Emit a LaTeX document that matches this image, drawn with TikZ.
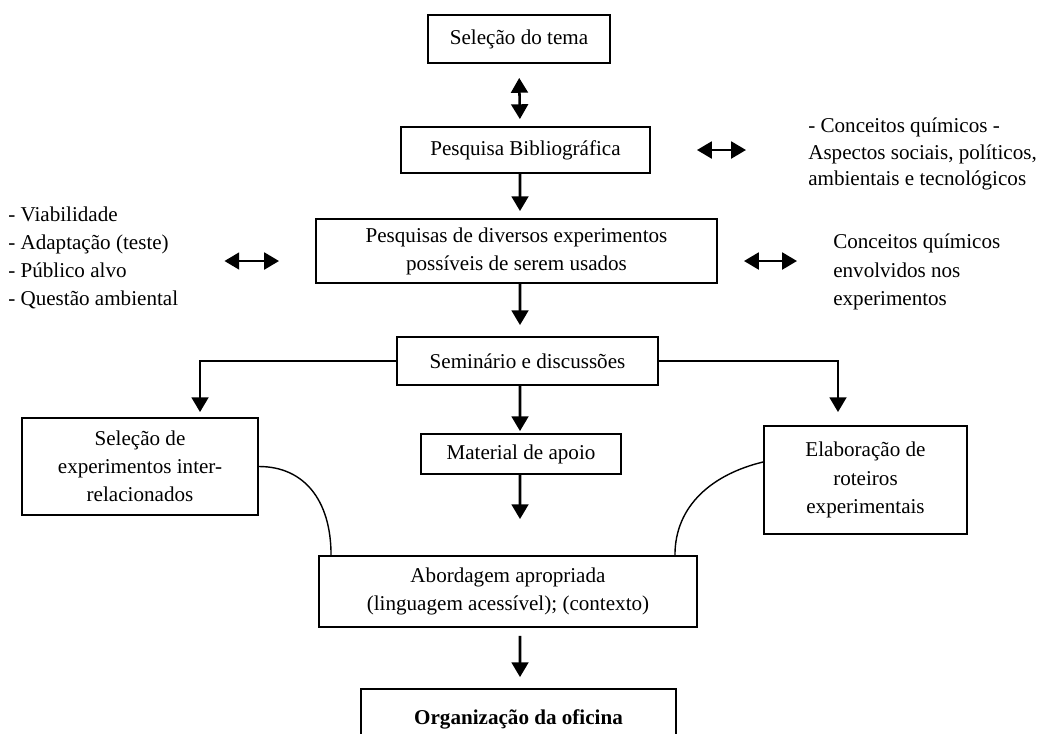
\documentclass[tikz,border=0pt]{standalone}
\usepackage{fontspec}
\setmainfont{Liberation Serif}
\usetikzlibrary{arrows.meta}

\begin{document}
\begin{tikzpicture}[x=0.025cm,y=-0.025cm,font=\fontsize{15}{20}\selectfont]
	\useasboundingbox (0,0) rectangle (1039,733);
	\clip (0,0) rectangle (1039,733);

	\begin{scope}[every node/.style={rectangle,draw,line width=1.3pt,align=center,inner sep=0pt}]
	    \node[minimum width=4.55cm,minimum height=1.2cm] (tema) at (519,39) {Seleção do tema};
	    \node[minimum width=6.225cm,minimum height=1.15cm] (biblio) at (525.5,150) {Pesquisa Bibliográfica};
	    \node[minimum width=10.025cm,minimum height=1.6cm] (exper) at (516.5,251) {Pesquisas de diversos experimentos\\possíveis de serem usados};
	    \node[minimum width=6.525cm,minimum height=1.2cm] (semin) at (527.5,361) {Seminário e discussões};
	    \node[minimum width=5.9cm,minimum height=2.425cm] (selexp) at (140,466.5) {Seleção de\\experimentos inter-\\relacionados};
	    \node[minimum width=5cm,minimum height=1cm] (apoio) at (521,454) {Material de apoio};
	    \node[minimum width=5.075cm,minimum height=2.7cm] (roteiro) at (865.5,480) {Elaboração de\\roteiros\\experimentais};
	    \node[minimum width=9.45cm,minimum height=1.775cm] (abord) at (508,591.5) {Abordagem apropriada\\(linguagem acessível); (contexto)};
	    \node[minimum width=7.875cm,minimum height=1.5cm,font=\fontsize{15}{20}\selectfont\bfseries] (oficina) at (518.5,719) {Organização da oficina};
	\end{scope}

	\begin{scope}[every node/.style={align=left,inner sep=0pt,anchor=west}]
	    \node[font=\fontsize{15}{19}\selectfont] (quim) at (808,154) {- Conceitos químicos -\\Aspectos sociais, políticos,\\ambientais e tecnológicos};
	    \node (crit) at (8,258) {- Viabilidade\\- Adaptação (teste)\\- Público alvo\\- Questão ambiental};
	    \node (envol) at (833,272) {Conceitos químicos\\envolvidos nos\\experimentos};
	\end{scope}

	\begin{scope}[>={Triangle[length=0.37cm,width=0.42cm]},
	              line width=1.8pt,
	              every edge/.style={draw=black}]
	    \path [<->] (tema.south) edge[shorten <=0.35cm,shorten >=0.175cm] ([xshift=-0.1375cm]biblio.north);
	    \path [<->] (biblio.east) edge[shorten <=1.15cm,shorten >=1.55cm] (biblio.east -| quim.west);
	    \path [->] ([xshift=-0.1375cm]biblio.south) edge[shorten >=0.175cm] ([xshift=0.0875cm]exper.north);
	    \path [<->] ([yshift=-0.25cm]exper.west) edge[shorten <=0.9cm,shorten >=1.15cm] ([yshift=-0.25cm]exper.west -| crit.east);
	    \path [<->] ([yshift=-0.25cm]exper.east) edge[shorten <=0.65cm,shorten >=0.9cm] ([yshift=-0.25cm]exper.east -| envol.west);
	    \path [->] ([xshift=0.0875cm]exper.south) edge[shorten >=0.275cm] ([xshift=-0.1875cm]semin.north);
	    \path [->] ([xshift=-0.1875cm]semin.south) edge[shorten >=0.05cm] ([xshift=-0.025cm]apoio.north);
	    \path [->] ([xshift=-0.025cm]apoio.south) edge[shorten >=0.9cm] ([xshift=0.3cm]abord.north);
	    \path [->] ([xshift=0.3cm]abord.south) edge[shorten <=0.2cm,shorten >=0.275cm] ([xshift=0.0375cm]oficina.north);
	    \draw [->,shorten >=0.125cm] (semin.west) -| ([xshift=1.5cm]selexp.north);
	    \draw [->,shorten >=0.325cm] (semin.east) -| ([xshift=-0.6875cm]roteiro.north);
	\end{scope}

	\begin{scope}[line width=1pt]
	    \draw (selexp.east) .. controls +(45,0) and +(0,-55) .. ([xshift=0.325cm]abord.north west);
	    \draw ([yshift=0.45cm]roteiro.west) .. controls +(-50,12) and +(0,-50) .. ([xshift=-0.575cm]abord.north east);
	\end{scope}
\end{tikzpicture}
\end{document}
